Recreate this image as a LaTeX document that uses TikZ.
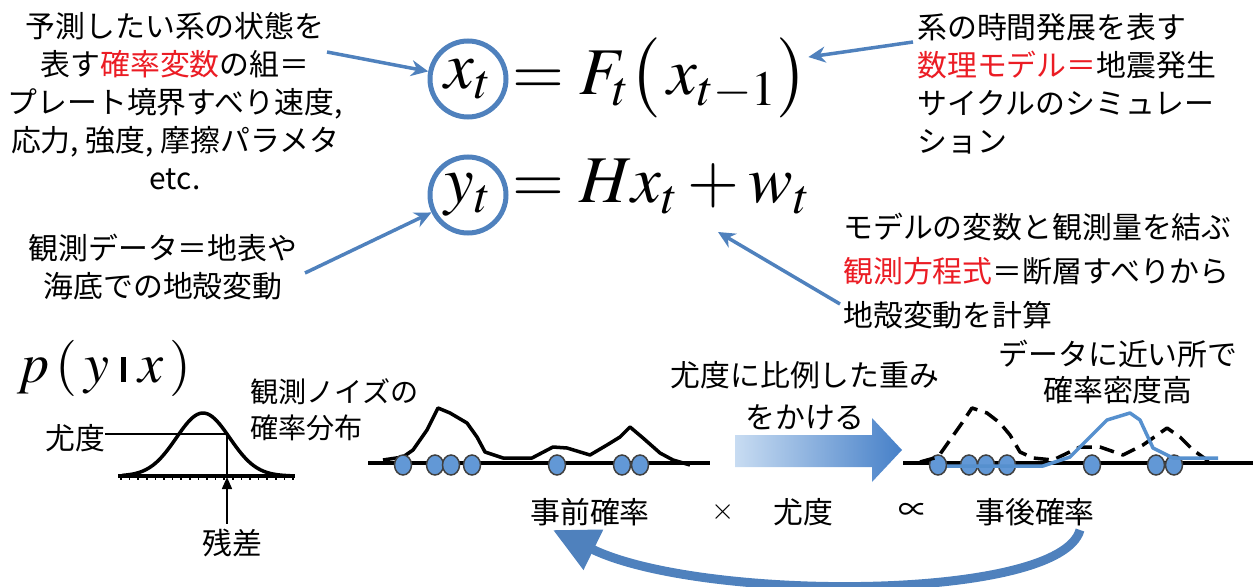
\documentclass[tikz,border=0pt]{standalone}
\usepackage{mathptmx}
\usepackage{fontspec}
\newfontfamily\jp{Noto Sans CJK JP}
\usetikzlibrary{arrows.meta,shapes.geometric}
\definecolor{pblue}{RGB}{79,129,189}
\definecolor{pred}{RGB}{235,28,36}
\definecolor{pdot}{RGB}{98,152,214}
\definecolor{pline}{RGB}{86,144,206}
\definecolor{plight}{RGB}{200,220,242}
\definecolor{pdark}{RGB}{70,128,200}

\begin{document}
\begin{tikzpicture}[x=0.2mm,y=-0.2mm,
  jtext/.style={font=\jp\fontsize{17}{21.6}\selectfont, inner sep=0pt},
  callout/.style={draw=pblue, line width=0.7mm, -{Stealth[length=3.4mm,width=3.2mm]}},
  ring/.style={circle, draw=pblue, line width=1mm, minimum size=15.2mm, inner sep=0pt},
  eq/.style={font=\fontsize{38}{38}\selectfont, inner sep=0pt},
  particle/.style={ellipse, draw=black!75, fill=pdot, line width=0.3mm, minimum width=3.4mm, minimum height=4mm, inner sep=0pt},
  curve/.style={line width=0.7mm, line join=round}]
  \useasboundingbox (0,0) rectangle (1253,587);

  \node[jtext, align=center] (state) at (175,101) {予測したい系の状態を\\表す\textcolor{pred}{確率変数}の組＝\\プレート境界すべり速度,\\応力,\ 強度,\ 摩擦パラメタ\\etc.};
  \node[jtext, align=left, anchor=west] (model) at (917,84) {系の時間発展を表す\\\textcolor{pred}{数理モデル＝}地震発生\\サイクルのシミュレー\\ション};
  \node[jtext, align=center] (data) at (163,267) {観測データ＝地表や\\海底での地殻変動};
  \node[jtext, font=\jp\fontsize{17}{25}\selectfont, align=left, anchor=west] (obs) at (843,271) {モデルの変数と観測量を結ぶ\\\textcolor{pred}{観測方程式}＝断層すべりから\\地殻変動を計算};

  \node[ring, eq] (xt) at (468,79) {$x_t$};
  \node[eq, anchor=base west] (eqx) at (512,95) {$=F_t\bigl(\,x_{t-1}\bigr)$};
  \node[ring, eq] (yt) at (468,195) {$y_t$};
  \node[eq, anchor=base west] (eqy) at (512,203) {$=Hx_t+w_t$};

  \coordinate (c1) at (327,52);
  \coordinate (c2) at (913,42);
  \coordinate (c3) at (305,273);
  \coordinate (c4) at (840,304);
  \coordinate (c4e) at (718,232);
  \draw[callout] (c1) -- (xt);
  \draw[callout] (c2) -- (eqx);
  \draw[callout] (c3) -- (yt);
  \draw[callout] (c4) -- (c4e);

  \node[eq, font=\fontsize{32}{32}\selectfont, anchor=base west] (pyx) at (17,382) {$p\,(\,y\;\rule{0.08em}{0.45em}\;x\,)$};
  \draw[curve] (118,476) -- (295,476);
  \foreach \k in {0,...,20}
    \draw[line width=0.3mm] (121+8.6*\k,476) -- ++(0,4);
  \draw[curve] plot[domain=122:290, samples=70] (\x,{476-63*exp(-((\x-203)/37.7)^2)});
  \node[jtext] (lk) at (75,438) {尤度};
  \node[jtext] (resid) at (232,543) {残差};
  \coordinate (rtip) at (227,477);
  \draw[line width=0.3mm] ([yshift=0.8mm]lk.east) -| (rtip);
  \draw[line width=0.3mm, -{Triangle[length=2.4mm,width=2mm]}, shorten <=1mm] (resid.north -| rtip) -- (rtip);
  \node[jtext, font=\jp\fontsize{16}{20.5}\selectfont, align=left, anchor=west] (noise) at (250,410) {観測ノイズの\\確率分布};

  \draw[curve] (368,463) -- (710,463);
  \draw[curve] (383,460) -- (403,457) -- (413,450) -- (427,430) -- (438,408) -- (450,413) -- (467,423) -- (477,437) -- (485,452) -- (503,458) -- (532,458) -- (553,447) -- (567,448) -- (590,455) -- (607,445) -- (620,437) -- (630,427) -- (643,438) -- (660,453) -- (673,460) -- (690,465);
  \foreach \px in {403,435,451,472,557,622,640}
    \node[particle] (pr\px) at (\px,465) {};

  \shade[left color=plight, right color=pdark] (735,435) -- (872,435) -- (872,418) -- (902,450) -- (872,482) -- (872,467) -- (735,467) -- cycle;
  \node[jtext, font=\jp\fontsize{17}{24}\selectfont, align=center] (weight) at (805,396) {尤度に比例した重み\\をかける};

  \draw[curve] (903,463) -- (1253,463);
  \foreach \px in {938,969,986,1007,1092,1156,1174}
    \node[particle] (po\px) at (\px,465) {};
  \draw[curve, dash pattern=on 3mm off 1.6mm] (920,462) -- (938,457) -- (950,440) -- (962,423) -- (972,408) -- (987,413) -- (1000,423) -- (1010,435) -- (1020,452) -- (1033,458) -- (1053,460) -- (1080,447) -- (1100,447) -- (1123,455) -- (1143,445) -- (1167,428) -- (1180,437) -- (1193,450) -- (1207,460) -- (1217,462);
  \draw[curve, draw=pline] (947,466) -- (1043,466) -- (1070,457) -- (1087,440) -- (1107,420) -- (1130,413) -- (1140,420) -- (1153,448) -- (1173,458) -- (1218,458);
  \node[jtext, align=center, font=\jp\fontsize{17}{20}\selectfont] (dense) at (1118,372) {データに近い所で\\確率密度高};

  \node[jtext] (prior) at (590,512) {事前確率};
  \node[jtext] (times) at (723,512) {$\times$};
  \node[jtext] (lik) at (803,512) {尤度};
  \node[jtext] (prop) at (913,512) {∝};
  \node[jtext] (post) at (1035,512) {事後確率};
  \coordinate (loopstart) at (1080,530);
  \coordinate (loopend) at (553,530);
  \draw[pblue, line width=1.8mm, -{Triangle[length=9mm,width=8.5mm]}] (loopstart) .. controls (1060,602) and (700,602) .. (loopend);
\end{tikzpicture}
\end{document}
